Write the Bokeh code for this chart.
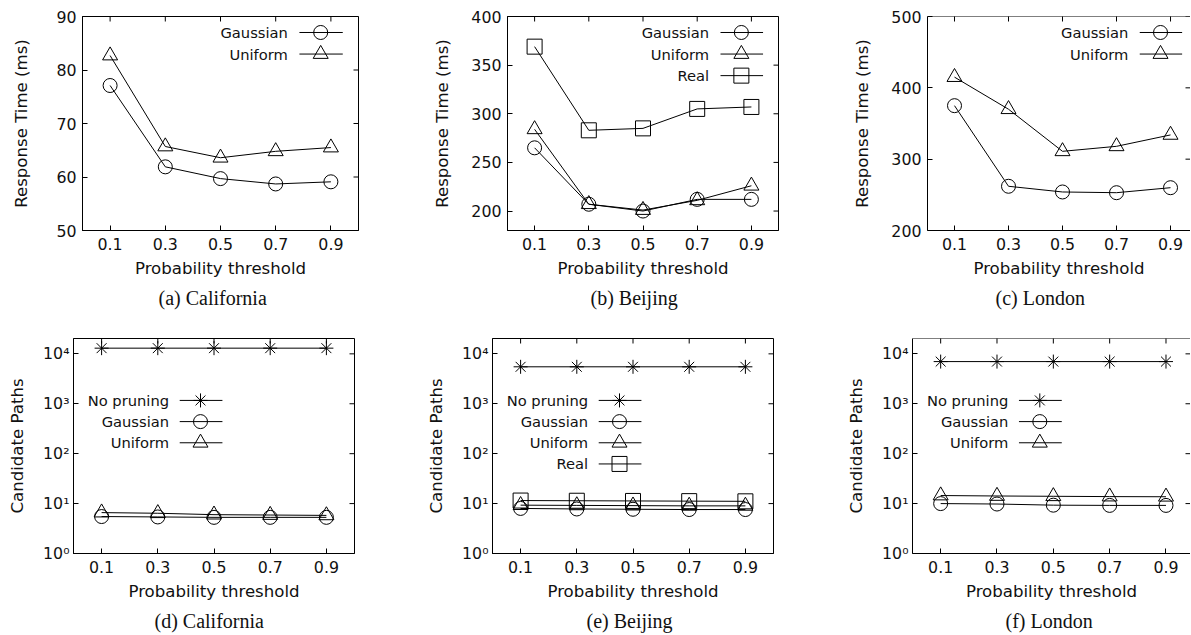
from bokeh.plotting import figure
from bokeh.layouts import column, row
from bokeh.models import FixedTicker, Range1d, Span
from bokeh.embed import file_html
from bokeh.resources import INLINE
from bokeh.core.properties import value
import math

# ---------------- data ----------------
thresholds = [0.1, 0.3, 0.5, 0.7, 0.9]
x_tick_labels = ["0.1", "0.3", "0.5", "0.7", "0.9"]

# Response time (ms)
ca_rt_gaussian = [77.1, 61.9, 59.7, 58.7, 59.1]
ca_rt_uniform = [82.7, 65.7, 63.6, 64.8, 65.5]
bj_rt_gaussian = [265, 207, 200, 212, 212]
bj_rt_uniform = [284, 207, 201, 211, 226]
bj_rt_real = [369, 283, 285, 305, 307]
ld_rt_gaussian = [375, 262, 254, 253, 260]
ld_rt_uniform = [415, 370, 311, 318, 334]

# Candidate paths
ca_cp_nopruning = [13000, 13000, 13000, 13000, 13000]
ca_cp_gaussian = [5.5, 5.4, 5.3, 5.3, 5.3]
ca_cp_uniform = [6.6, 6.4, 6.0, 5.9, 5.8]
bj_cp_nopruning = [5500, 5500, 5500, 5500, 5500]
bj_cp_gaussian = [8.0, 7.8, 7.7, 7.6, 7.6]
bj_cp_uniform = [9.3, 9.2, 9.1, 9.0, 9.0]
bj_cp_real = [11.5, 11.4, 11.3, 11.2, 11.1]
ld_cp_nopruning = [7000, 7000, 7000, 7000, 7000]
ld_cp_gaussian = [10.0, 9.8, 9.3, 9.2, 9.2]
ld_cp_uniform = [14.5, 14.2, 14.0, 13.8, 13.7]

rt_ticks_ca = [50, 60, 70, 80, 90]
rt_ticks_bj = [200, 250, 300, 350, 400]
rt_ticks_ld = [200, 300, 400, 500]
cp_ticks = [1, 10, 100, 1000, 10000]
cp_tick_labels = ["10\u2070", "10\u00b9", "10\u00b2", "10\u00b3", "10\u2074"]

# ---------------- style ----------------
FONT = "DejaVu Sans"
SERIF = "Liberation Serif"
INK = "#111111"
TICK_FS = "15.8px"
LABEL_FS = "16.6px"
LEG_FS = "14.7px"


def style_axis(ax):
    ax.axis_line_color = "black"
    ax.axis_line_width = 1
    ax.major_tick_line_color = "black"
    ax.major_tick_in = 5
    ax.major_tick_out = 0
    ax.minor_tick_line_color = None
    ax.major_label_text_font = FONT
    ax.major_label_text_font_size = TICK_FS
    ax.major_label_text_color = INK
    ax.axis_label_text_font = FONT
    ax.axis_label_text_font_size = LABEL_FS
    ax.axis_label_text_font_style = "normal"
    ax.axis_label_text_color = INK


def make_panel(caption, cap_offset, ylabel, series, x_end, y_lo, y_hi, y_ticks, y_labels, log,
               left, fw, right, top, fh, bottom, ylabel_standoff, tick_standoff, leg,
               right_edge=True):
    p = figure(frame_width=fw, frame_height=fh,
               min_border_left=left, min_border_right=right,
               min_border_top=top, min_border_bottom=bottom,
               x_range=Range1d(0, x_end), y_range=Range1d(y_lo, y_hi),
               y_axis_type="log" if log else "linear",
               output_backend="svg", toolbar_location=None,
               title=caption, title_location="below")
    p.background_fill_color = "white"
    p.border_fill_color = "white"
    p.xgrid.visible = False
    p.ygrid.visible = False
    if right_edge:
        p.outline_line_color = "black"
        p.outline_line_width = 1
    else:
        # frame runs past the page edge: no right border, top border only
        p.outline_line_color = None
        p.add_layout(Span(location=y_hi, dimension="width",
                          line_color="black", line_width=1))

    xa = p.xaxis[0]
    xa.ticker = FixedTicker(ticks=thresholds)
    xa.major_label_overrides = dict(zip(thresholds, x_tick_labels))
    style_axis(xa)
    xa.major_label_standoff = 7
    xa.axis_label = "Probability threshold"
    xa.axis_label_standoff = 6

    ya = p.yaxis[0]
    ya.ticker = FixedTicker(ticks=y_ticks)
    ya.major_label_overrides = dict(zip(y_ticks, y_labels))
    style_axis(ya)
    ya.major_label_standoff = tick_standoff
    ya.axis_label = ylabel
    ya.axis_label_standoff = ylabel_standoff

    p.title.align = "left"
    p.title.offset = cap_offset
    p.title.text_font = SERIF
    p.title.text_font_size = "20px"
    p.title.text_font_style = "normal"
    p.title.text_color = INK
    p.title.standoff = 9

    # mirrored inward ticks on top and right edges (clipped to the frame)
    p.scatter(thresholds, [y_hi] * len(thresholds), marker="dash", angle=math.pi / 2,
              size=10, line_color="black", line_width=1)
    p.scatter([x_end] * len(y_ticks), y_ticks, marker="dash", size=10,
              line_color="black", line_width=1)

    for vals, marker, size, _ in series:
        p.line(thresholds, vals, line_color="black", line_width=1)
        p.scatter(thresholds, vals, marker=marker, size=size, fill_color=None,
                  line_color="black", line_width=1)

    # legend, gnuplot style: label, then sample line with marker
    x_text, x_l0, x_l1, x_mark, fy0, dfy = leg

    def fy_to_y(fy):
        if log:
            lh, ll = math.log10(y_hi), math.log10(y_lo)
            return 10 ** (lh - fy * (lh - ll))
        return y_hi - fy * (y_hi - y_lo)

    for i, (vals, marker, size, label) in enumerate(series):
        yy = fy_to_y(fy0 + i * dfy)
        p.text(x=[x_text], y=[yy], text=[label], text_align="right",
               text_baseline="middle", text_font=value(FONT),
               text_font_size=LEG_FS, text_color=INK)
        p.line([x_l0, x_l1], [yy, yy], line_color="black", line_width=1)
        p.scatter([x_mark], [yy], marker=marker, size=size, fill_color=None,
                  line_color="black", line_width=1)
    return p


top_leg = (0.744, 0.786, 0.943, 0.863, 0.0747, 0.1008)
bot_leg = (0.340, 0.378, 0.530, 0.452, 0.288, 0.0985)

rt_label = "Response Time (ms)"
cp_label = "Candidate Paths"

fa = make_panel("(a) California", 76, rt_label,
                [(ca_rt_gaussian, "circle", 14, "Gaussian"),
                 (ca_rt_uniform, "triangle", 15, "Uniform")],
                1.0, 50, 90, rt_ticks_ca, [str(t) for t in rt_ticks_ca], False,
                82, 276, 40, 16, 214, 88, 22, 6, top_leg)
fb = make_panel("(b) Beijing", 83, rt_label,
                [(bj_rt_gaussian, "circle", 14, "Gaussian"),
                 (bj_rt_uniform, "triangle", 15, "Uniform"),
                 (bj_rt_real, "square", 15, "Real")],
                1.0, 180, 400, rt_ticks_bj, [str(t) for t in rt_ticks_bj], False,
                109, 271, 14, 16, 214, 88, 16, 6, top_leg)
fc = make_panel("(c) London", 68, rt_label,
                [(ld_rt_gaussian, "circle", 14, "Gaussian"),
                 (ld_rt_uniform, "triangle", 15, "Uniform")],
                0.974, 200, 500, rt_ticks_ld, [str(t) for t in rt_ticks_ld], False,
                135, 263, 0, 16, 214, 88, 16, 6, top_leg, right_edge=False)

fd = make_panel("(d) California", 81, cp_label,
                [(ca_cp_nopruning, "asterisk", 14, "No pruning"),
                 (ca_cp_gaussian, "circle", 14, "Gaussian"),
                 (ca_cp_uniform, "triangle", 15, "Uniform")],
                1.0, 1, 20300, cp_ticks, cp_tick_labels, True,
                73, 281, 46, 20, 215, 80, 13, 4, bot_leg)
fe = make_panel("(e) Beijing", 94, cp_label,
                [(bj_cp_nopruning, "asterisk", 14, "No pruning"),
                 (bj_cp_gaussian, "circle", 14, "Gaussian"),
                 (bj_cp_uniform, "triangle", 15, "Uniform"),
                 (bj_cp_real, "square", 15, "Real")],
                1.0, 1, 20300, cp_ticks, cp_tick_labels, True,
                92, 281, 20, 20, 215, 80, 13, 4, bot_leg)
ff = make_panel("(f) London", 93, cp_label,
                [(ld_cp_nopruning, "asterisk", 14, "No pruning"),
                 (ld_cp_gaussian, "circle", 14, "Gaussian"),
                 (ld_cp_uniform, "triangle", 15, "Uniform")],
                0.987, 1, 20300, cp_ticks, cp_tick_labels, True,
                119, 278, 0, 20, 215, 80, 13, 4, bot_leg, right_edge=False)

layout = column(row(fa, fb, fc, spacing=0), row(fd, fe, ff, spacing=0), spacing=0)
open("out.html", "w").write(file_html(layout, INLINE))
